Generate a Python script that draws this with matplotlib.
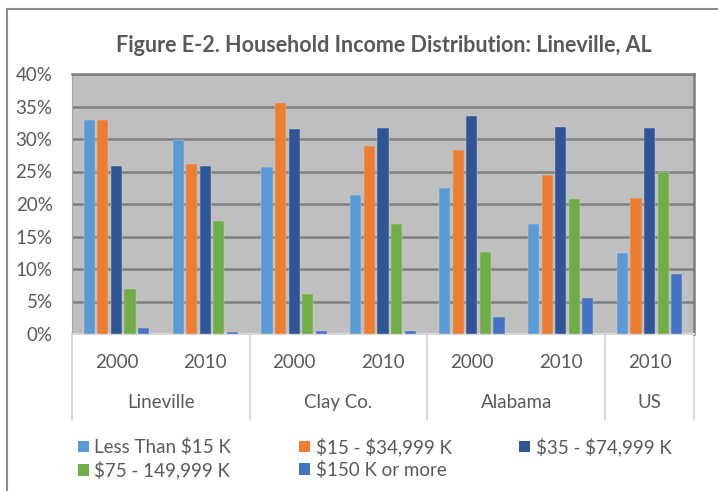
import numpy as np
import matplotlib
matplotlib.use("Agg")
import matplotlib.pyplot as plt
from matplotlib.lines import Line2D
from matplotlib.patches import Patch

plt.rcParams['font.family'] = ['Lato', 'DejaVu Sans']

years = ["2000", "2010", "2000", "2010", "2000", "2010", "2010"]
places = ["Lineville", "Clay Co.", "Alabama", "US"]
place_sizes = [2, 2, 2, 1]

series_names = ["Less Than \\$15 K", "\\$15 - \\$34,999 K", "\\$35 - \\$74,999 K",
                "\\$75 - 149,999 K", "\\$150 K or more"]
less_15k = [32.9, 29.8, 25.7, 21.4, 22.4, 16.9, 12.5]
k15_35 = [32.9, 26.1, 35.5, 29.0, 28.3, 24.5, 20.9]
k35_75 = [25.9, 25.9, 31.5, 31.7, 33.6, 31.8, 31.7]
k75_150 = [6.9, 17.4, 6.2, 16.9, 12.6, 20.8, 24.9]
k150_plus = [0.9, 0.3, 0.4, 0.4, 2.6, 5.5, 9.3]

colors = ["#5B9BD5", "#ED7D31", "#2F5597", "#70AD47", "#4472C4"]
text_col = "#595959"
fs = 13.5

W, H = 718, 491
fig = plt.figure(figsize=(W / 100, H / 100), dpi=100)
fig.patch.set_facecolor("white")

# outer chart frame (cropped at right and bottom)
fig.add_artist(Line2D([7 / W, 7 / W], [0, 1 - 9 / H], color="#8C8C8C", lw=1.5))
fig.add_artist(Line2D([7 / W, 1], [1 - 9 / H, 1 - 9 / H], color="#8C8C8C", lw=1.5))

left, right, top, bottom = 72, 694, 74, 334
ax = fig.add_axes([left / W, 1 - bottom / H, (right - left) / W, (bottom - top) / H])
ax.set_facecolor("#BFBFBF")

x = np.arange(len(years))
all_series = [less_15k, k15_35, k35_75, k75_150, k150_plus]
step = 0.153
width = 0.125
for i, (vals, c) in enumerate(zip(all_series, colors)):
    ax.bar(x + (i - 2) * step, vals, width=width, color=c, zorder=3,
           edgecolor="#D0D0D0", linewidth=0.3)

ax.set_xlim(-0.5, len(years) - 0.5)
ax.set_ylim(0, 40)
ax.set_yticks(np.arange(0, 41, 5))
ax.set_yticklabels([f"{v}%" for v in range(0, 41, 5)])
ax.tick_params(axis="y", length=0, labelsize=fs, labelcolor=text_col, pad=14)
ax.set_xticks([])
ax.yaxis.grid(True, color="#7F7F7F", linewidth=1.8, zorder=1)
ax.set_axisbelow(True)
for s in ["top", "right"]:
    ax.spines[s].set_color("#7F7F7F")
    ax.spines[s].set_linewidth(1.8)
ax.spines["left"].set_color("#A6A6A6")
ax.spines["bottom"].set_color("#D9D9D9")
ax.spines["bottom"].set_linewidth(1.5)

# category axis (years and places)
trans = ax.get_xaxis_transform()
for xi, yr in zip(x, years):
    ax.text(xi, -0.108, yr, transform=trans, ha="center", va="center",
            fontsize=fs, color=text_col)
edges = np.concatenate([[0], np.cumsum(place_sizes)]) - 0.5
for name, a, b in zip(places, edges[:-1], edges[1:]):
    ax.text((a + b) / 2, -0.265, name, transform=trans, ha="center",
            va="center", fontsize=fs, color=text_col)
for e in edges:
    ax.plot([e, e], [0, -0.325], transform=trans, color="#D9D9D9", lw=1.5,
            clip_on=False)

fig.text(384 / W, 1 - 46 / H, "Figure E-2. Household Income Distribution: Lineville, AL",
         ha="center", va="center", fontsize=15.5, fontweight="bold", color=text_col)

# legend: row-wise order like Excel
handles = [Patch(facecolor=c, label=n) for c, n in zip(colors, series_names)]
order = [0, 3, 1, 4, 2]
fig.legend([handles[i] for i in order], [series_names[i] for i in order],
           ncol=3, loc="upper left", bbox_to_anchor=(70 / W, 1 - 430 / H),
           frameon=False, fontsize=fs, labelcolor=text_col,
           handlelength=0.6, handleheight=0.6, handletextpad=0.3,
           columnspacing=3.6, labelspacing=0.25, borderaxespad=0)

fig.savefig("out.png", dpi=100)
